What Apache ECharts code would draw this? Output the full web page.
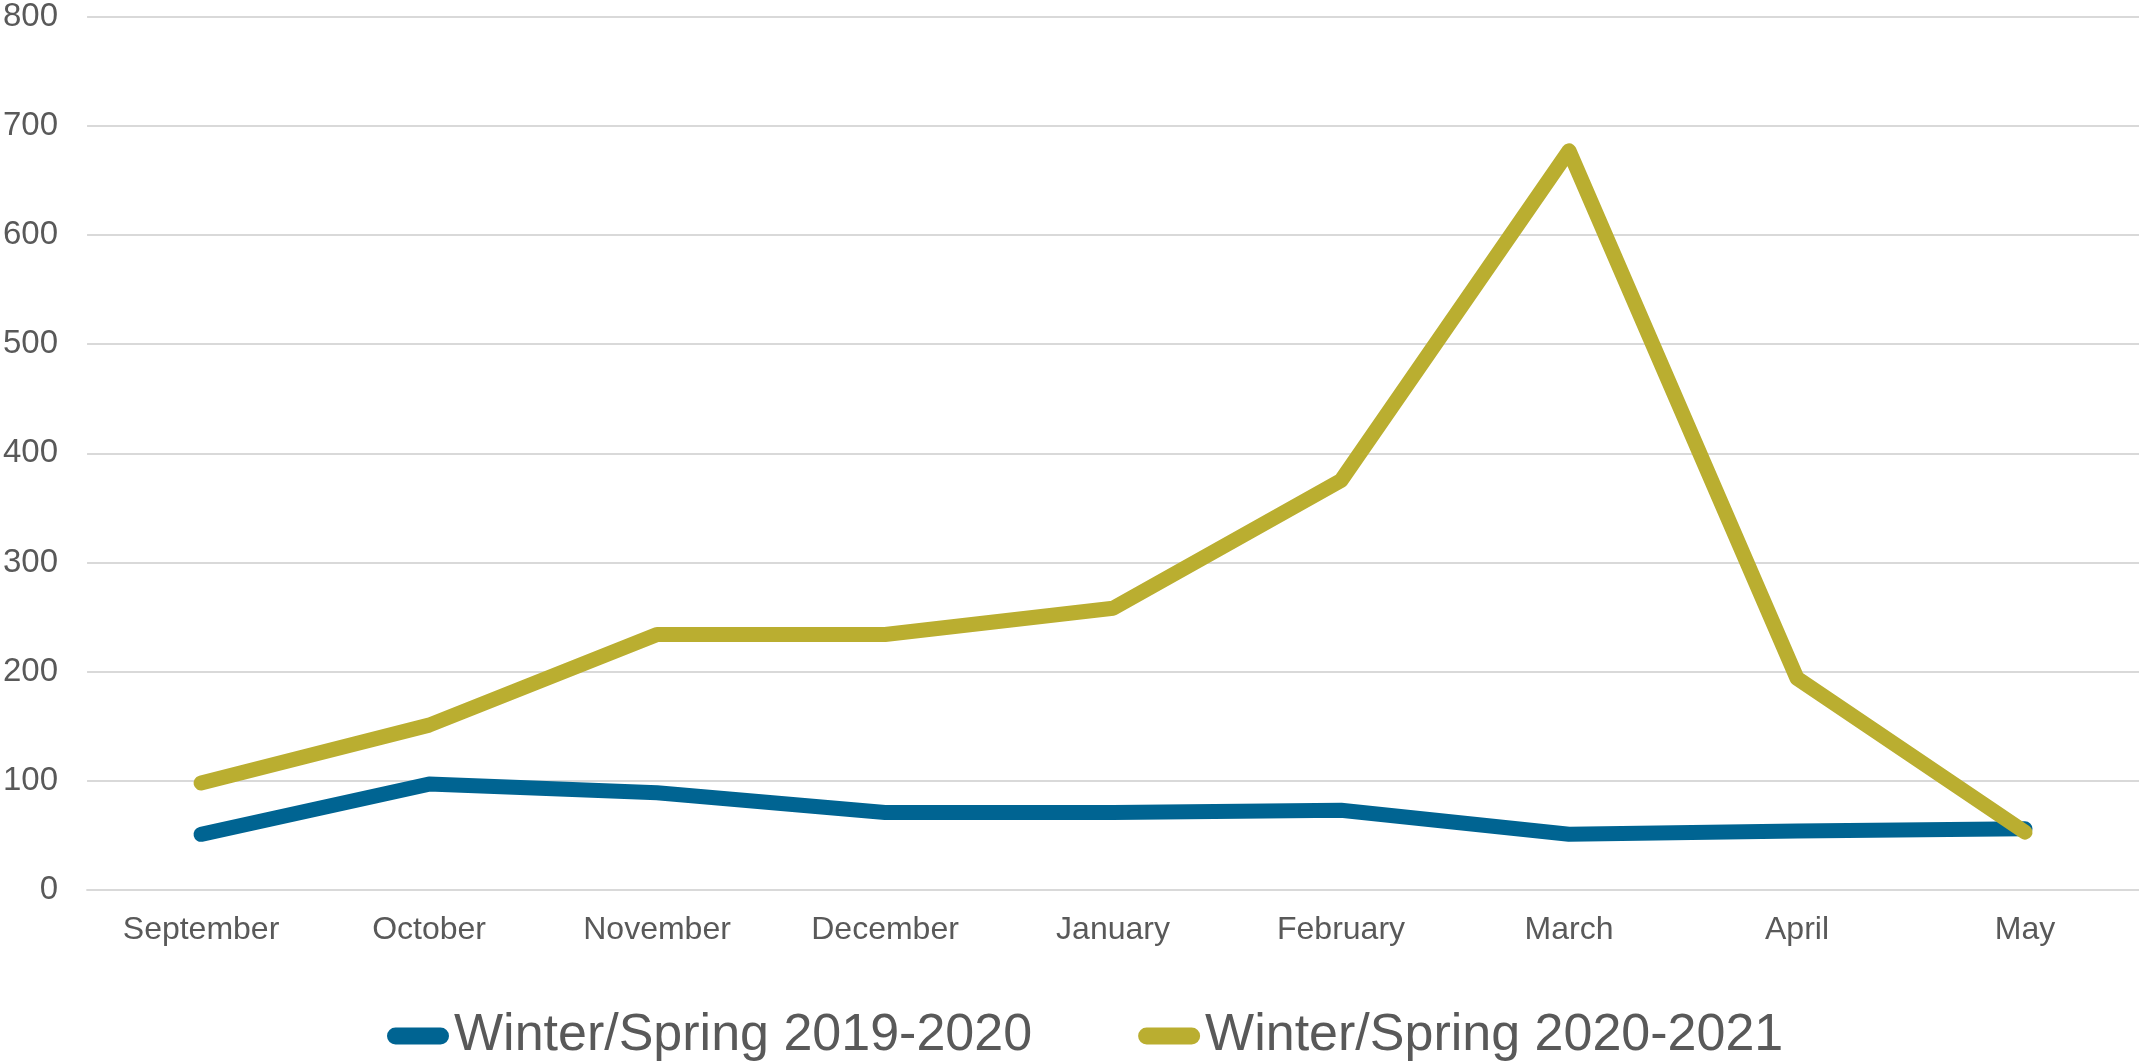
<!DOCTYPE html>
<html>
<head>
<meta charset="utf-8">
<script src="https://cdn.jsdelivr.net/npm/echarts@6/dist/echarts.min.js"></script>
<style>
  html, body { margin: 0; padding: 0; background: #fff; }
  #chart { width: 2139px; height: 1062px; }
</style>
</head>
<body>
<div id="chart"></div>
<script>
const months = ["September", "October", "November", "December", "January", "February", "March", "April", "May"];
const season1920 = [51, 97, 89, 71, 71, 73, 51, 54, 56];
const season2021 = [98, 151, 234, 234, 258, 375, 677, 194, 53];
const yTicks = [0, 100, 200, 300, 400, 500, 600, 700, 800];

const textColor = "#595959";
// pill shaped legend marker, like the thick line ends
const capsule = "path://M8.5,0 H53.5 A8.5,8.5 0 0 1 53.5,17 H8.5 A8.5,8.5 0 0 1 8.5,0 Z";

let mychart = echarts.init(document.getElementById("chart"));
let option = {
  animation: false,
  grid: {
    left: 84,
    right: 0,
    top: 13,
    bottom: 172,
  },
  legend: {
    left: 382,
    top: 1005,
    icon: capsule,
    itemWidth: 62,
    itemHeight: 17,
    itemGap: 106,
    textStyle: {
      fontFamily: "Liberation Sans, Arial, sans-serif",
      fontSize: 52,
      color: textColor,
    },
  },
  xAxis: {
    type: "category",
    data: months,
    boundaryGap: true,
    axisTick: { show: false },
    axisLine: { lineStyle: { color: "#d9d9d9", width: 2 } },
    axisLabel: {
      color: textColor,
      fontFamily: "Liberation Sans, Arial, sans-serif",
      fontSize: 32,
      margin: 24,
    },
  },
  yAxis: {
    type: "value",
    min: yTicks[0],
    max: yTicks[yTicks.length - 1],
    interval: 100,
    axisTick: { show: false },
    axisLine: { show: false },
    axisLabel: {
      color: textColor,
      fontFamily: "Liberation Sans, Arial, sans-serif",
      fontSize: 33,
      margin: 29,
    },
    splitLine: {
      lineStyle: { color: "#d9d9d9", width: 2 },
    },
  },
  series: [
    {
      name: "Winter/Spring 2019-2020",
      type: "line",
      data: season1920,
      showSymbol: false,
      color: "#006492",
      lineStyle: { width: 15, cap: "round", join: "round" },
    },
    {
      name: "Winter/Spring 2020-2021",
      type: "line",
      data: season2021,
      showSymbol: false,
      color: "#baae30",
      lineStyle: { width: 15, cap: "round", join: "round" },
    },
  ],
};
mychart.setOption(option);
</script>
</body>
</html>
